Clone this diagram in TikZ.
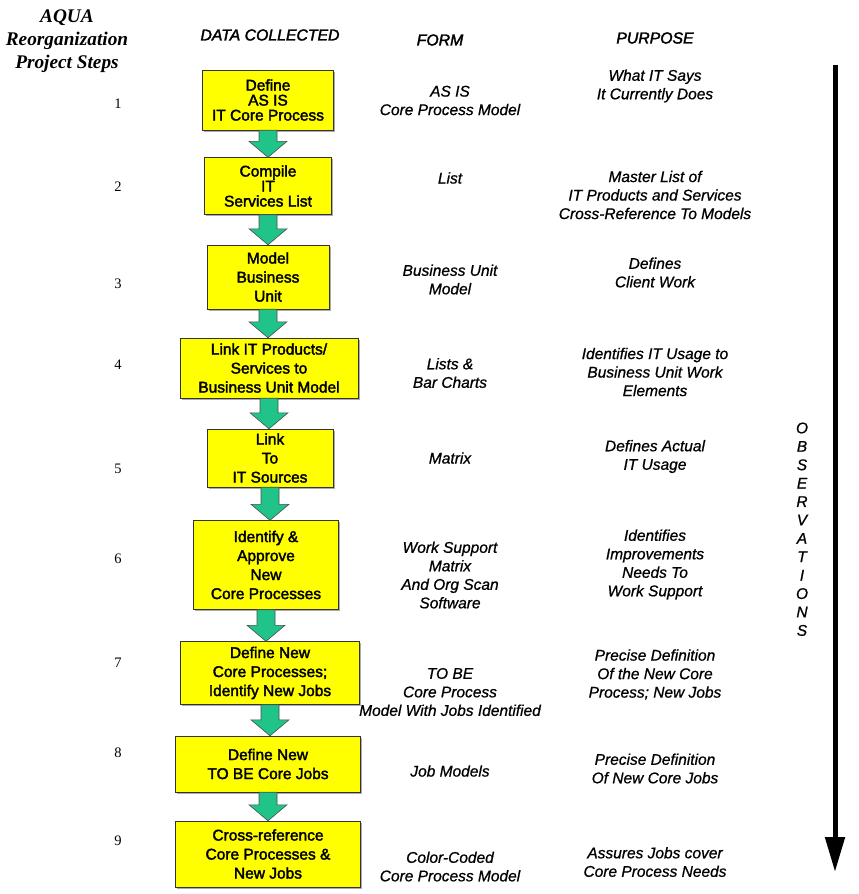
\documentclass[tikz,border=0pt]{standalone}
\usepackage{fontspec}
\setmainfont{Liberation Serif}
\setsansfont{Liberation Sans}
\newfontfamily\boxfont{Liberation Sans}[FakeBold=2.2]
\newfontfamily\colfont{Liberation Sans}[FakeBold=0.8]
\usetikzlibrary{shapes,arrows,arrows.meta,positioning,shadows,calc}

\definecolor{boxyellow}{RGB}{255,255,0}
\definecolor{arrowgreen}{RGB}{32,196,136}

\tikzset{
  stepbox/.style={draw=black!80, fill=boxyellow, align=center, inner sep=2pt,
    font=\boxfont\fontsize{15.5}{19}\selectfont,
    drop shadow={shadow xshift=1.5pt, shadow yshift=-1.5pt, opacity=0.6, fill=black!55}},
  tightlines/.style={font=\boxfont\fontsize{15.5}{15}\selectfont},
  coltext/.style={align=center, font=\colfont\itshape\fontsize{15.5}{18.5}\selectfont},
  colhead/.style={font=\boxfont\itshape\fontsize{15.8}{18.5}\selectfont},
  stepnum/.style={font=\fontsize{14.5}{17}\selectfont},
  flow/.style={draw=black!70, fill=arrowgreen, line width=0.6pt},
}

% block arrow from the bottom of one box to the top of the next
\newcommand{\flowarrow}[2]{%
  \draw[flow] let \p1=(#1.south), \p2=(#2.north) in
    (\x1-9pt,\y1) -- (\x1+9pt,\y1) -- (\x1+9pt,\y2+16pt) -- (\x1+19pt,\y2+16pt)
    -- (\x1,\y2) -- (\x1-19pt,\y2+16pt) -- (\x1-9pt,\y2+16pt) -- cycle;}

\begin{document}
\begin{tikzpicture}[x=1pt,y=-1pt]
  \useasboundingbox (0,0) rectangle (859,894);

  % column headings
  \node[align=center, font=\bfseries\itshape\fontsize{19.3}{23}\selectfont] (title) at (67,41)
    {AQUA\\Reorganization\\Project Steps};
  \node[colhead] (hdata) at (270,35) {DATA COLLECTED};
  \node[colhead] (hform) at (440,40) {FORM};
  \node[colhead] (hpurpose) at (655,38) {PURPOSE};

  % the steps
  \node[stepbox, tightlines, minimum width=131pt, minimum height=60pt] (asis) at (268,100) {Define\\AS IS\\IT Core Process};
  \node[stepbox, tightlines, minimum width=127pt, minimum height=57pt] (services) at (268,186) {Compile\\IT\\Services List};
  \node[stepbox, minimum width=122pt, minimum height=64pt] (busunit) at (268,277) {Model\\Business\\Unit};
  \node[stepbox, minimum width=178pt, minimum height=60pt] (linkprod) at (269,368) {Link IT Products/\\Services to\\Business Unit Model};
  \node[stepbox, minimum width=126pt, minimum height=58pt] (linksrc) at (270,458) {Link\\To\\IT Sources};
  \node[stepbox, minimum width=145pt, minimum height=89pt] (approve) at (266,565) {Identify \&\\Approve\\New\\Core Processes};
  \node[stepbox, minimum width=179pt, minimum height=63pt] (newproc) at (270,673) {Define New\\Core Processes;\\Identify New Jobs};
  \node[stepbox, minimum width=185pt, minimum height=56pt] (newjobs) at (268,764) {Define New\\TO BE Core Jobs};
  \node[stepbox, minimum width=185pt, minimum height=66pt] (crossref) at (268,854) {Cross-reference\\Core Processes \&\\New Jobs};

  \flowarrow{asis}{services}
  \flowarrow{services}{busunit}
  \flowarrow{busunit}{linkprod}
  \flowarrow{linkprod}{linksrc}
  \flowarrow{linksrc}{approve}
  \flowarrow{approve}{newproc}
  \flowarrow{newproc}{newjobs}
  \flowarrow{newjobs}{crossref}

  % step numbers
  \foreach \n/\y in {1/104,2/187,3/284,4/365,5/469,6/559,7/663,8/753,9/841}
    \node[stepnum] (num\n) at (118,\y) {\n};

  % form
  \node[coltext] (form1) at (450,100.5) {AS IS\\Core Process Model};
  \node[coltext] (form2) at (450,178) {List};
  \node[coltext] (form3) at (450,279.5) {Business Unit\\Model};
  \node[coltext] (form4) at (450,373) {Lists \&\\Bar Charts};
  \node[coltext] (form5) at (450,458) {Matrix};
  \node[coltext] (form6) at (450,575) {Work Support\\Matrix\\And Org Scan\\Software};
  \node[coltext] (form7) at (450,692) {TO BE\\Core Process\\Model With Jobs Identified};
  \node[coltext] (form8) at (450,771) {Job Models};
  \node[coltext] (form9) at (450,866.5) {Color-Coded\\Core Process Model};

  % purpose
  \node[coltext] (purp1) at (655,86) {What IT Says\\It Currently Does};
  \node[coltext] (purp2) at (655,195) {Master List of\\IT Products and Services\\Cross-Reference To Models};
  \node[coltext] (purp3) at (655,272.5) {Defines\\Client Work};
  \node[coltext] (purp4) at (655,372) {Identifies IT Usage to\\Business Unit Work\\Elements};
  \node[coltext] (purp5) at (655,456.5) {Defines Actual\\IT Usage};
  \node[coltext] (purp6) at (655,564.5) {Identifies\\Improvements\\Needs To\\Work Support};
  \node[coltext] (purp7) at (655,674.5) {Precise Definition\\Of the New Core\\Process; New Jobs};
  \node[coltext] (purp8) at (655,768.5) {Precise Definition\\Of New Core Jobs};
  \node[coltext] (purp9) at (655,862) {Assures Jobs cover\\Core Process Needs};

  % observations arrow
  \foreach \ch [count=\i from 0] in {O,B,S,E,R,V,A,T,I,O,N,S}
    \node[coltext] (obs\i) at (802,{428+18.4*\i}) {\ch};
  \coordinate (obstop) at (835,65);
  \coordinate (obsend) at (835,872);
  \draw[line width=5pt, -{Triangle[length=35pt,width=19pt]}] (obstop) -- (obsend);
\end{tikzpicture}
\end{document}
